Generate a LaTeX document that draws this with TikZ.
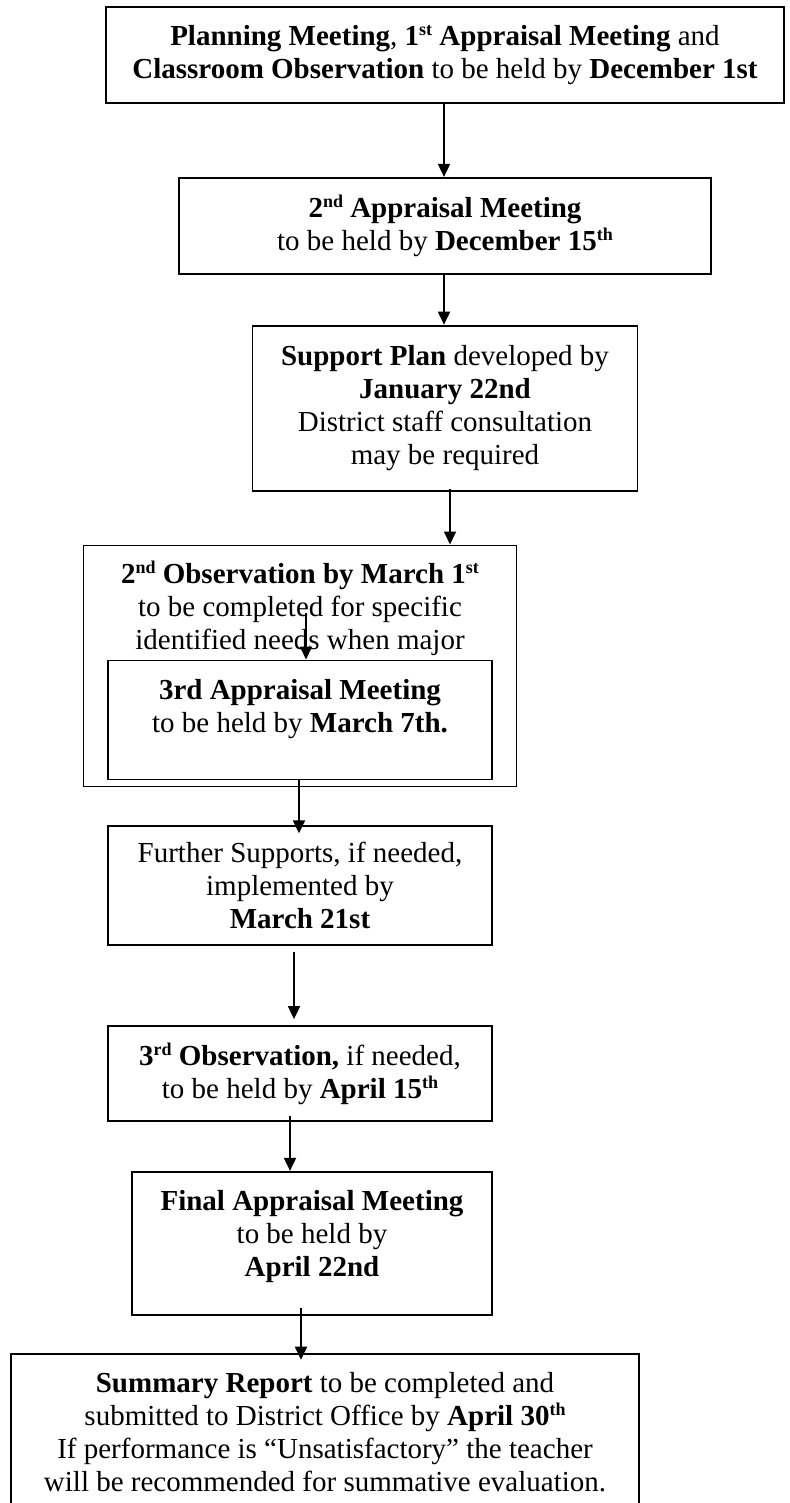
\documentclass[tikz,border=0pt]{standalone}
\usepackage{fontspec}
\setmainfont{Liberation Serif}
\usetikzlibrary{arrows.meta, positioning}
\newcommand{\stagefont}{\fontsize{29}{33}\selectfont}
\newcommand{\ord}[1]{\raisebox{10pt}{\fontsize{18}{18}\selectfont #1}}

\begin{document}
\begin{tikzpicture}[
    >={Triangle[length=13pt, width=12pt]},
    stage/.style={draw, line width=1.8pt, rectangle, inner sep=0pt,
                  align=center, font=\stagefont},
    plain/.style={inner sep=0pt, align=center, font=\stagefont},
    flow/.style={->, line width=1.8pt}
  ]
  \fill[white] (0,0) rectangle (789pt,-1503pt);
  \useasboundingbox (0,0) rectangle (789pt,-1503pt);

  \node[stage, minimum width=678pt, minimum height=96pt] (plan) at (445pt,-55pt)
    {\textbf{Planning Meeting}, \textbf{1\ord{st} Appraisal Meeting} and\\
     \textbf{Classroom Observation} to be held by \textbf{December 1st}};
  \node[stage, minimum width=532pt, minimum height=96pt, below=73pt of plan] (appr2)
    {\textbf{2\ord{nd} Appraisal Meeting}\\
     to be held by \textbf{December 15\ord{th}}};
  \node[stage, minimum width=385pt, minimum height=165pt, below=50pt of appr2] (supp)
    {\textbf{Support Plan} developed by\\ \textbf{January 22nd}\\
     District staff consultation\\ may be required};
  \node[stage, minimum width=433pt, minimum height=241pt, below=53pt of supp,
        xshift=-145pt] (obs2) {};
  \node[plain, below=16pt of obs2.north] (obs2txt)
    {\textbf{2\ord{nd} Observation by March 1\ord{st}}\\
     to be completed for specific\\ identified needs when major};
  \node[stage, minimum width=384pt, minimum height=119pt, text depth=28pt,
        below=115pt of obs2.north] (meet3)
    {\textbf{3rd Appraisal Meeting}\\ to be held by \textbf{March 7th.}};
  \node[stage, minimum width=384pt, minimum height=119pt, below=38pt of obs2] (further)
    {Further Supports, if needed,\\ implemented by\\ \textbf{March 21st}};
  \node[stage, minimum width=384pt, minimum height=95pt, below=79pt of further] (obs3)
    {\textbf{3\ord{rd} Observation,} if needed,\\
     to be held by \textbf{April 15\ord{th}}};
  \node[stage, minimum width=360pt, minimum height=143pt, text depth=19pt,
        below=49pt of obs3, xshift=12pt] (final)
    {\textbf{Final Appraisal Meeting}\\ to be held by\\ \textbf{April 22nd}};
  \node[stage, minimum width=628pt, minimum height=157pt, below=37pt of final,
        xshift=13pt] (summ)
    {\textbf{Summary Report} to be completed and\\
     submitted to District Office by \textbf{April 30\ord{th}}\\
     If performance is “Unsatisfactory” the teacher\\
     will be recommended for summative evaluation.};

  \coordinate (obs2in) at ([xshift=6pt, yshift=-68pt]obs2.north);

  \draw[flow] ([xshift=-1pt]plan.south) -- ([xshift=-1pt]appr2.north);
  \draw[flow] ([xshift=-1pt]appr2.south) -- ([xshift=-1pt]supp.north);
  \draw[flow, shorten <=-3pt] ([xshift=5pt]supp.south) -- ([xshift=5pt]supp.south |- obs2.north);
  \draw[flow] (obs2in) -- (obs2in |- meet3.north);
  \draw[flow, shorten >=-8pt] ([xshift=-1pt]meet3.south) -- ([xshift=-1pt]further.north);
  \draw[flow, shorten <=6pt, shorten >=6pt] ([xshift=-6pt]further.south) -- ([xshift=-6pt]obs3.north);
  \draw[flow, shorten <=-6pt] ([xshift=-10pt]obs3.south) -- ([xshift=-10pt]obs3.south |- final.north);
  \draw[flow, shorten <=-8pt, shorten >=-7pt] ([xshift=-11pt]final.south) -- ([xshift=-11pt]final.south |- summ.north);
\end{tikzpicture}
\end{document}
